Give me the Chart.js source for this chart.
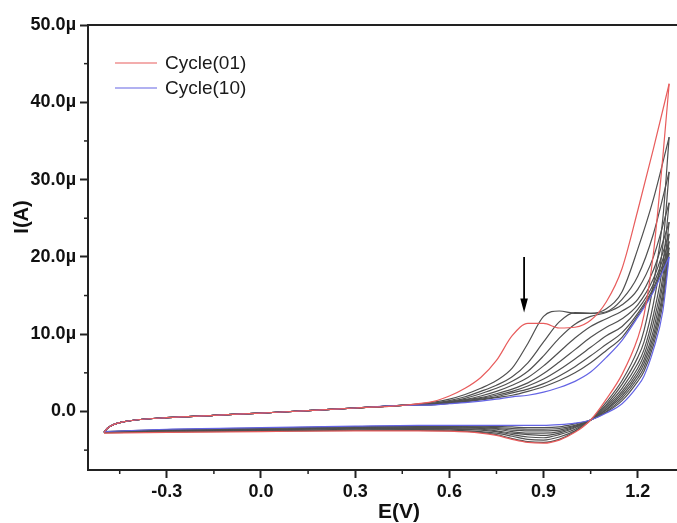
<!DOCTYPE html>
<html><head><meta charset="utf-8">
<script src="https://cdn.jsdelivr.net/npm/chart.js@4.4.1/dist/chart.umd.min.js"></script>
<style>html,body{margin:0;padding:0;background:#fff;}</style>
</head><body>
<canvas id="c" width="677" height="523"></canvas>
<script>
// Potential grids (V)
const fwdE = [-0.5,-0.49,-0.47,-0.44,-0.4,-0.3,-0.15,0,0.15,0.3,0.45,0.55,0.6,0.65,0.7,0.75,0.8,0.85,0.9,0.95,1.0,1.05,1.1,1.15,1.2,1.25,1.3];
const revE = [1.3,1.28,1.25,1.22,1.2,1.15,1.1,1.05,1.0,0.95,0.9,0.85,0.8,0.75,0.7,0.6,0.5,0.3,0.0,-0.3,-0.5];
// Common start of forward scans (µA), E = -0.5 .. 0.45
const fwdBase = [-2.7,-2.2,-1.7,-1.35,-1.1,-0.8,-0.5,-0.2,0.1,0.45,0.8];
// Forward scan currents (µA), E = 0.55 .. 1.3
const c01Fwd = [1.3,2.0,3.0,4.4,6.6,9.8,11.4,11.4,10.8,10.9,11.8,14.2,18.5,26.0,34.0,42.4];
const c02Fwd = [1.2,1.6,2.2,3.0,4.0,5.6,8.8,12.3,13.0,12.7,12.7,13.3,15.5,21.0,27.5,35.5];
const c03Fwd = [1.1,1.4,1.9,2.6,3.4,4.5,6.3,9.0,11.6,12.8,12.7,12.9,14.5,17.5,23.0,31.0];
const c04Fwd = [1.0,1.3,1.7,2.3,3.0,3.9,5.2,7.2,9.5,11.3,12.3,12.8,13.8,15.8,20.0,27.0];
const c05Fwd = [1.0,1.25,1.55,2.0,2.6,3.4,4.4,5.9,7.7,9.5,11.0,12.0,13.0,14.5,18.3,24.5];
const c06Fwd = [1.0,1.2,1.5,1.8,2.3,2.9,3.7,4.9,6.4,8.0,9.6,10.9,12.0,13.8,17.2,23.0];
const c07Fwd = [0.95,1.15,1.4,1.7,2.1,2.6,3.3,4.2,5.4,6.8,8.3,9.8,11.0,13.2,16.5,22.0];
const c08Fwd = [0.9,1.1,1.3,1.6,1.9,2.4,2.9,3.6,4.6,5.8,7.2,8.7,10.2,12.7,16.0,21.2];
const c09Fwd = [0.9,1.05,1.25,1.5,1.8,2.1,2.6,3.2,4.0,5.0,6.3,7.9,9.6,12.4,15.7,20.5];
const c10Fwd = [0.85,1.0,1.15,1.35,1.6,1.9,2.1,2.5,3.1,3.9,5.1,7.0,9.2,12.2,15.5,20.0];
// Reverse scan currents (µA), E = 1.3 .. -0.5
const c01Rev = [42.4,33.0,20.5,12.5,9.5,4.8,1.6,-1.1,-2.7,-3.7,-4.1,-4.0,-3.6,-3.1,-2.8,-2.55,-2.5,-2.5,-2.6,-2.7,-2.8];
const c02Rev = [35.5,25.0,16.5,10.5,8.0,4.0,1.2,-1.1,-2.6,-3.6,-4.0,-3.9,-3.5,-3.0,-2.7,-2.5,-2.45,-2.45,-2.55,-2.65,-2.75];
const c03Rev = [31.0,21.5,14.0,9.0,7.0,3.5,0.9,-1.1,-2.5,-3.3,-3.7,-3.6,-3.2,-2.8,-2.6,-2.4,-2.35,-2.4,-2.5,-2.6,-2.75];
const c04Rev = [27.0,19.0,12.5,8.0,6.2,3.0,0.7,-1.1,-2.3,-3.0,-3.4,-3.3,-3.0,-2.6,-2.4,-2.3,-2.25,-2.3,-2.45,-2.6,-2.7];
const c05Rev = [24.5,17.5,11.5,7.3,5.6,2.6,0.5,-1.1,-2.1,-2.8,-3.1,-3.0,-2.8,-2.5,-2.3,-2.2,-2.2,-2.2,-2.4,-2.55,-2.7];
const c06Rev = [23.0,16.5,10.5,6.7,5.1,2.3,0.3,-1.1,-2.0,-2.6,-2.8,-2.8,-2.6,-2.3,-2.2,-2.1,-2.1,-2.15,-2.35,-2.5,-2.7];
const c07Rev = [22.0,15.5,9.8,6.2,4.7,2.0,0.2,-1.1,-1.9,-2.4,-2.5,-2.5,-2.4,-2.2,-2.1,-2.0,-2.0,-2.1,-2.3,-2.45,-2.65];
const c08Rev = [21.2,14.8,9.2,5.7,4.3,1.7,0.0,-1.1,-1.8,-2.2,-2.3,-2.3,-2.2,-2.1,-2.0,-1.95,-1.95,-2.0,-2.2,-2.4,-2.65];
const c09Rev = [20.5,14.0,8.6,5.2,3.9,1.4,-0.1,-1.1,-1.6,-2.0,-2.1,-2.1,-2.0,-1.95,-1.9,-1.9,-1.9,-1.95,-2.15,-2.35,-2.6];
const c10Rev = [20.0,13.0,8.0,4.6,3.3,1.0,-0.2,-1.1,-1.5,-1.7,-1.8,-1.8,-1.8,-1.8,-1.8,-1.8,-1.8,-1.9,-2.1,-2.3,-2.6];

const cycleLabels = ['Cycle(01)','Cycle(02)','Cycle(03)','Cycle(04)','Cycle(05)','Cycle(06)','Cycle(07)','Cycle(08)','Cycle(09)','Cycle(10)'];
const fwdList = [c01Fwd,c02Fwd,c03Fwd,c04Fwd,c05Fwd,c06Fwd,c07Fwd,c08Fwd,c09Fwd,c10Fwd];
const revList = [c01Rev,c02Rev,c03Rev,c04Rev,c05Rev,c06Rev,c07Rev,c08Rev,c09Rev,c10Rev];
const legendIdx = [0, 9];

const xMajor = [-0.3,0,0.3,0.6,0.9,1.2];
const xMinor = [-0.45,-0.15,0.15,0.45,0.75,1.05];
const yMajor = [0,10,20,30,40,50];
const yMinor = [-5,5,15,25,35,45];

// Arrow annotation (data units)
const arrowE = 0.838, arrowTopI = 20.0, arrowTipI = 12.8;

const RED = 'rgb(232,92,92)', BLUE = 'rgb(100,100,228)', GREY = 'rgb(80,80,80)';
function colorFor(i){ return i===0 ? RED : (i===9 ? BLUE : GREY); }

const datasets = [];
const drawOrder = [0,9,1,2,3,4,5,6,7,8];
drawOrder.forEach(i => {
  const fwd = fwdBase.concat(fwdList[i]);
  const common = {label: cycleLabels[i], borderColor: colorFor(i), borderWidth: 1.2, pointRadius: 0,
    showLine: true, fill: false, cubicInterpolationMode: 'monotone'};
  datasets.push(Object.assign({}, common, {data: fwdE.map((e,k)=>({x:e, y:fwd[k]}))}));
  datasets.push(Object.assign({}, common, {data: revE.map((e,k)=>({x:e, y:revList[i][k]}))}));
});

const FONT = "'Liberation Sans', Arial, sans-serif";

const decor = {
  id: 'decor',
  afterDraw(chart){
    const ctx = chart.ctx, xs = chart.scales.x, ys = chart.scales.y, ca = chart.chartArea;
    ctx.save();
    ctx.strokeStyle = '#222'; ctx.lineWidth = 2;
    // top frame line
    ctx.beginPath(); ctx.moveTo(ca.left-1, ca.top); ctx.lineTo(ca.right, ca.top); ctx.stroke();
    // minor ticks
    ctx.lineWidth = 1.5;
    xMinor.forEach(v => { const p = xs.getPixelForValue(v); ctx.beginPath(); ctx.moveTo(p, ca.bottom); ctx.lineTo(p, ca.bottom+4); ctx.stroke(); });
    yMinor.forEach(v => { const p = ys.getPixelForValue(v); ctx.beginPath(); ctx.moveTo(ca.left, p); ctx.lineTo(ca.left-4, p); ctx.stroke(); });
    // arrow
    const ax = xs.getPixelForValue(arrowE), ay1 = ys.getPixelForValue(arrowTopI), ay2 = ys.getPixelForValue(arrowTipI);
    ctx.strokeStyle = '#000'; ctx.fillStyle = '#000'; ctx.lineWidth = 1.8;
    ctx.beginPath(); ctx.moveTo(ax, ay1); ctx.lineTo(ax, ay2-10); ctx.stroke();
    ctx.beginPath(); ctx.moveTo(ax-3.8, ay2-14); ctx.lineTo(ax+3.8, ay2-14); ctx.lineTo(ax, ay2); ctx.closePath(); ctx.fill();
    // legend
    ctx.font = '19px ' + FONT; ctx.textBaseline = 'middle'; ctx.textAlign = 'left';
    legendIdx.forEach((i, k) => {
      const y = 63 + k*25;
      ctx.strokeStyle = colorFor(i); ctx.lineWidth = 1.2;
      ctx.beginPath(); ctx.moveTo(115, y); ctx.lineTo(157, y); ctx.stroke();
      ctx.fillStyle = '#1a1a1a'; ctx.fillText(cycleLabels[i], 165, y+1);
    });
    // axis titles
    ctx.fillStyle = '#111';
    ctx.font = 'bold 21px ' + FONT; ctx.textAlign = 'center';
    ctx.fillText('E(V)', 399, 512);
    ctx.translate(22, 217); ctx.rotate(-Math.PI/2);
    ctx.font = 'bold 20px ' + FONT;
    ctx.fillText('I(A)', 0, 0);
    ctx.restore();
  }
};

new Chart(document.getElementById('c'), {
  type: 'scatter',
  data: {datasets},
  options: {
    responsive: false, animation: false, devicePixelRatio: 1,
    layout: {padding: {top: 25, right: 0, left: 0, bottom: 0}},
    plugins: {legend: {display: false}, tooltip: {enabled: false}},
    scales: {
      x: {
        type: 'linear', min: -0.551, max: 1.325,
        afterBuildTicks: s => { s.ticks = xMajor.map(v => ({value: v})); },
        afterFit: s => { s.height = 53; },
        ticks: {callback: v => Number(v).toFixed(1), font: {family: FONT, size: 18, weight: 'bold'}, color: '#111', padding: 3, maxRotation: 0, autoSkip: false},
        grid: {drawOnChartArea: false, drawTicks: true, tickLength: 8, tickWidth: 2, tickColor: '#222'},
        border: {display: true, color: '#222', width: 2}
      },
      y: {
        type: 'linear', min: -7.57, max: 50,
        afterBuildTicks: s => { s.ticks = yMajor.map(v => ({value: v})); },
        afterFit: s => { s.width = 88; },
        ticks: {callback: v => v === 0 ? '0.0' : Number(v).toFixed(1) + 'µ', font: {family: FONT, size: 18, weight: 'bold'}, color: '#111', padding: 4, autoSkip: false},
        grid: {drawOnChartArea: false, drawTicks: true, tickLength: 8, tickWidth: 2, tickColor: '#222'},
        border: {display: true, color: '#222', width: 2}
      }
    }
  },
  plugins: [decor]
});
</script>
</body></html>
